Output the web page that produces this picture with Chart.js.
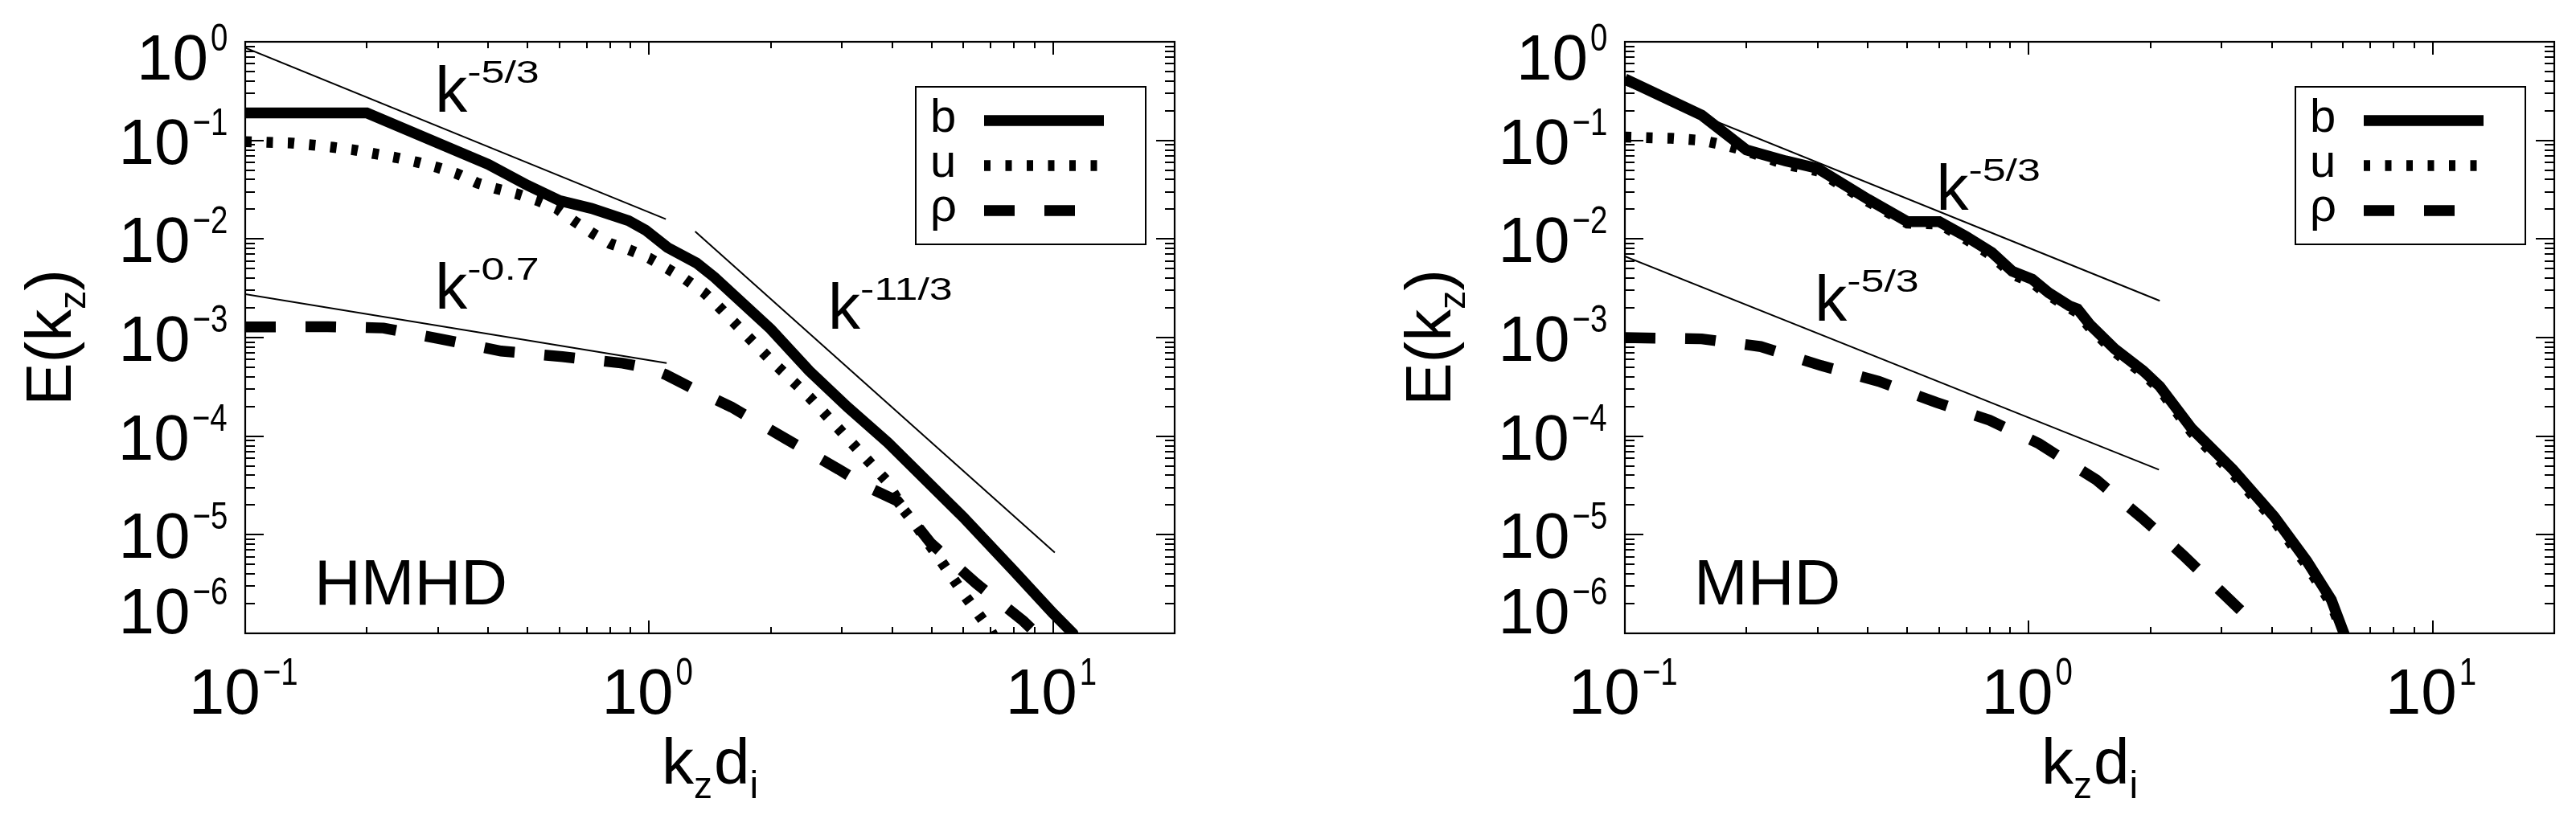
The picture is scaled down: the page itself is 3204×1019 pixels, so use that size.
<!DOCTYPE html>
<html>
<head>
<meta charset="utf-8">
<script src="https://cdn.jsdelivr.net/npm/chart.js@4/dist/chart.umd.min.js"></script>
<style>
html,body{margin:0;padding:0;background:#fff;}
#wrap{position:relative;width:3204px;height:1019px;background:#fff;overflow:hidden;}
canvas{position:absolute;top:0;}
</style>
</head>
<body>
<div id="wrap">
<canvas id="cL" width="1602" height="1019" style="left:0px"></canvas>
<canvas id="cR" width="1602" height="1019" style="left:1602px"></canvas>
</div>
<script>
// ================= DATA =================
// ---- HMHD panel ----
const hmhdK_b = [0.1, 0.2, 0.4, 0.5, 0.6, 0.72, 0.89, 0.98, 1.11, 1.31, 1.45, 2.0, 2.49, 3.1, 3.9, 6.0, 8.0, 10.0, 11.2, 11.6];
const hmhdE_b = [0.19, 0.19, 0.057, 0.035, 0.0245, 0.0204, 0.0153, 0.0123, 0.0082, 0.0057, 0.0041, 0.00122, 4.6e-4, 1.97e-4, 8.6e-5, 1.5e-5, 4.3e-6, 1.6e-6, 1.0e-6, 7e-7];
const hmhdK_u = [0.1, 0.13, 0.15, 0.165, 0.186, 0.21, 0.236, 0.267, 0.3, 0.334, 0.375, 0.415, 0.47, 0.53, 0.59, 0.65, 0.72, 0.8, 0.89, 1.0, 1.11, 1.23, 1.37, 1.48, 2.0, 2.49, 3.1, 3.85, 4.27, 4.61, 5.3, 6.08, 7.0, 7.4];
const hmhdE_u = [0.097, 0.094, 0.089, 0.085, 0.080, 0.073, 0.067, 0.06, 0.053, 0.046, 0.037, 0.0327, 0.0287, 0.0245, 0.0204, 0.0153, 0.0116, 0.009, 0.0078, 0.0064, 0.005, 0.0039, 0.00284, 0.0021, 5.9e-4, 2.5e-4, 9.5e-5, 3.6e-5, 1.78e-5, 1.2e-5, 5.3e-6, 2.34e-6, 1.07e-6, 7e-7];
const hmhdK_rho = [0.1, 0.16, 0.22, 0.3, 0.43, 0.61, 0.86, 1.0, 1.1, 1.29, 1.6, 2.17, 2.95, 3.5, 4.12, 4.97, 6.46, 8.45, 9.6];
const hmhdE_rho = [0.00128, 0.00129, 0.00125, 0.00098, 0.00073, 0.00064, 0.00055, 0.00049, 0.00042, 0.0003, 0.000197, 9.5e-5, 4.6e-5, 3.0e-5, 2.2e-5, 8.3e-6, 3.2e-6, 1.33e-6, 8e-7];
// reference power-law guide segments (end points)
const hmhdGuide1K = [0.1, 1.1];   const hmhdGuide1E = [0.87, 0.0159];     // k^-5/3
const hmhdGuide2K = [1.3, 10.1];  const hmhdGuide2E = [0.0119, 6.6e-6];   // k^-11/3
const hmhdGuide3K = [0.1, 1.105]; const hmhdGuide3E = [0.00275, 0.00055]; // k^-0.7

// ---- MHD panel ----
const mhdK_b = [0.1, 0.155, 0.2, 0.25, 0.3, 0.4, 0.5, 0.6, 0.7, 0.81, 0.91, 1.02, 1.12, 1.26, 1.32, 1.42, 1.63, 1.92, 2.11, 2.53, 3.2, 4.05, 4.88, 5.61, 6.03, 6.3];
const mhdE_b = [0.42, 0.18, 0.08, 0.062, 0.052, 0.0253, 0.015, 0.015, 0.0106, 0.0073, 0.0047, 0.0039, 0.00285, 0.0021, 0.00195, 0.00134, 7.7e-4, 4.6e-4, 3.2e-4, 1.2e-4, 4.6e-5, 1.53e-5, 5.4e-6, 2.19e-6, 1.0e-6, 6e-7];
const mhdK_u = [0.1, 0.13, 0.155, 0.18, 0.2, 0.25, 0.3, 0.4, 0.5, 0.6, 0.7, 0.81, 0.91, 1.02, 1.12, 1.26, 1.32, 1.42, 1.63, 1.92, 2.11, 2.53, 3.2, 4.05, 4.88, 5.61, 6.0, 6.2];
const mhdE_u = [0.108, 0.105, 0.1, 0.088, 0.078, 0.057, 0.049, 0.024, 0.0145, 0.0142, 0.0099, 0.0068, 0.0044, 0.0036, 0.0027, 0.002, 0.0018, 0.00125, 7.2e-4, 4.3e-4, 3.0e-4, 1.1e-4, 4.2e-5, 1.4e-5, 4.9e-6, 2.0e-6, 1.0e-6, 7e-7];
const mhdK_rho = [0.1, 0.155, 0.217, 0.306, 0.425, 0.59, 0.8, 1.06, 1.19, 1.47, 1.9, 2.09, 2.41, 2.77, 3.35];
const mhdE_rho = [0.001, 0.00097, 0.00081, 0.00052, 0.00036, 0.00022, 0.000145, 8.4e-5, 6.2e-5, 3.6e-5, 1.5e-5, 1.06e-5, 6.2e-6, 3.6e-6, 1.7e-6];
const mhdGuide1K = [0.1, 2.11]; const mhdGuide1E = [0.368, 0.00236];   // k^-5/3 (upper)
const mhdGuide2K = [0.1, 2.1];  const mhdGuide2E = [0.00668, 4.57e-5]; // k^-5/3 (lower)

// ---- tick labels / texts ----
const yTickExponents = ['0', '\u22121', '\u22122', '\u22123', '\u22124', '\u22125', '\u22126'];
const yTickValues = [1, 1e-1, 1e-2, 1e-3, 1e-4, 1e-5, 1e-6];
const xTickExponents = ['\u22121', '0', '1'];
const xTickValues = [0.1, 1, 10];
const seriesNames = ['b', 'u', '\u03c1'];
const panelNames = ['HMHD', 'MHD'];

// ================= STYLE / LAYOUT =================
const FONT = '"Liberation Sans", Arial, Helvetica, sans-serif';
const seriesStyles = [
  {width: 13.5, dash: []},
  {width: 13.5, dash: [8, 18.5]},
  {width: 13.5, dash: [38, 37]}
];

function pts(ks, es) { return ks.map((k, i) => ({x: k, y: es[i]})); }

function fnt(px) { return px + 'px ' + FONT; }

// "10^e" style label with superscript
function drawPow(ctx, base, exp, x, y, align, o) {
  ctx.textAlign = 'left'; ctx.textBaseline = 'alphabetic';
  ctx.font = fnt(o.mainPx); const mb = ctx.measureText(base);
  ctx.font = fnt(o.supPx); const ms = ctx.measureText(exp);
  const sx = o.supSX || 1, sy = o.supSY || 1;
  const inkL = -mb.actualBoundingBoxLeft;
  const supStart = mb.width + o.gap;
  const supInkR = supStart + sx * ms.actualBoundingBoxRight;
  const inkR = Math.max(mb.actualBoundingBoxRight, supInkR);
  let x0;
  if (align === 'right') x0 = x - inkR;
  else if (align === 'center') x0 = x - (inkL + inkR) / 2;
  else x0 = x - inkL;
  ctx.font = fnt(o.mainPx); ctx.fillText(base, x0, y);
  ctx.save();
  ctx.translate(x0 + supStart, y - o.supRise);
  ctx.scale(sx, sy);
  ctx.font = fnt(o.supPx); ctx.fillText(exp, 0, 0);
  ctx.restore();
}

function drawParts(ctx, parts, x, y, align) {
  ctx.textAlign = 'left'; ctx.textBaseline = 'alphabetic';
  let w = 0; const ws = [];
  parts.forEach(p => { ctx.font = fnt(p.px); const m = ctx.measureText(p.t); ws.push(m.width); w += m.width + (p.dx || 0); });
  let cx = align === 'center' ? x - w / 2 : x;
  parts.forEach((p, i) => { ctx.font = fnt(p.px); cx += (p.dx || 0); ctx.fillText(p.t, cx, y + (p.dy || 0)); cx += ws[i]; });
}

const tickLabelOpts = {mainPx: 80, supPx: 48, supSX: 0.8, supRise: 36, gap: 3};
const noteOpts = {mainPx: 80, supPx: 52, supSX: 1.0, supSY: 0.73, supRise: 36, gap: 0};

function makeDecor(cfg) {
  return {
    id: 'decor',
    afterDatasetsDraw(chart) {
      const ctx = chart.ctx, a = chart.chartArea;
      const xs = chart.scales.x, ys = chart.scales.y;
      ctx.save();
      ctx.fillStyle = '#000'; ctx.strokeStyle = '#000';
      // ---- frame ----
      ctx.lineWidth = 2.2;
      ctx.strokeRect(a.left, a.top, a.right - a.left, a.bottom - a.top);
      // ---- y ticks (inward, both sides) ----
      ctx.lineWidth = 2;
      ctx.beginPath();
      for (let e = -6; e <= 0; e++) {
        for (let m = 1; m <= 9; m++) {
          const v = m * Math.pow(10, e);
          if (v > 1.0000001) break;
          const py = Math.round(ys.getPixelForValue(v));
          const len = m === 1 ? 23 : 12;
          ctx.moveTo(a.left, py); ctx.lineTo(a.left + len, py);
          ctx.moveTo(a.right, py); ctx.lineTo(a.right - len, py);
        }
      }
      // ---- x ticks (inward, top and bottom) ----
      for (let e = -1; e <= 1; e++) {
        for (let m = 1; m <= 9; m++) {
          const v = m * Math.pow(10, e);
          if (v > 20.0001) break;
          const px = Math.round(xs.getPixelForValue(v));
          const len = m === 1 ? 16 : 8;
          ctx.moveTo(px, a.bottom); ctx.lineTo(px, a.bottom - len);
          ctx.moveTo(px, a.top); ctx.lineTo(px, a.top + len);
        }
      }
      ctx.stroke();
      // ---- y tick labels ----
      yTickValues.forEach((v, i) => {
        const py = ys.getPixelForValue(v);
        let base = py + 29;
        if (i === 0) base = py + 47;
        if (i === yTickValues.length - 1) base = py;
        drawPow(ctx, '10', yTickExponents[i], a.left - 23, base, 'right', tickLabelOpts);
      });
      // ---- x tick labels ----
      xTickValues.forEach((v, i) => {
        const px = xs.getPixelForValue(v);
        drawPow(ctx, '10', xTickExponents[i], px, a.bottom + 100, 'center', tickLabelOpts);
      });
      // ---- axis titles ----
      const cxm = (a.left + a.right) / 2, cym = (a.top + a.bottom) / 2;
      drawParts(ctx, [
        {t: 'k', px: 80}, {t: 'z', px: 46, dy: 18}, {t: 'd', px: 80, dx: 2}, {t: 'i', px: 48, dy: 18}
      ], cxm, a.bottom + 187, 'center');
      ctx.save();
      ctx.translate(a.left - 217, cym);
      ctx.rotate(-Math.PI / 2);
      drawParts(ctx, [
        {t: 'E', px: 80}, {t: '(', px: 80}, {t: 'k', px: 80}, {t: 'z', px: 46, dy: 18}, {t: ')', px: 80}
      ], 0, 0, 'center');
      ctx.restore();
      // ---- power-law annotations ----
      cfg.notes.forEach(n => {
        const px = xs.getPixelForValue(n.k), py = ys.getPixelForValue(n.e);
        drawPow(ctx, 'k', n.exp, px, py, 'left', noteOpts);
      });
      // ---- panel name ----
      ctx.font = fnt(80); ctx.textAlign = 'left'; ctx.textBaseline = 'alphabetic';
      const nm = ctx.measureText(cfg.name);
      ctx.fillText(cfg.name, a.left + 92 + nm.actualBoundingBoxLeft, a.top + 700);
      // ---- legend ----
      ctx.lineWidth = 2;
      ctx.strokeRect(a.left + 834, a.top + 56, 286, 196);
      const rowsText = [112, 168, 223], rowsLine = [98, 154, 210];
      seriesNames.forEach((s, i) => {
        ctx.font = fnt(58);
        const m = ctx.measureText(s);
        ctx.fillText(s, a.left + 855 + m.actualBoundingBoxLeft, a.top + rowsText[i]);
        ctx.save();
        ctx.lineWidth = seriesStyles[i].width;
        ctx.setLineDash(seriesStyles[i].dash);
        ctx.lineCap = 'butt';
        ctx.beginPath();
        ctx.moveTo(a.left + 919, a.top + rowsLine[i]);
        ctx.lineTo(a.left + 1068, a.top + rowsLine[i]);
        ctx.stroke();
        ctx.restore();
      });
      ctx.restore();
    }
  };
}

function series(data, i) {
  return {
    data: data, borderColor: '#000', backgroundColor: '#000',
    borderWidth: seriesStyles[i].width, borderDash: seriesStyles[i].dash,
    borderCapStyle: 'butt', borderJoinStyle: 'miter',
    pointRadius: 0, fill: false, tension: 0, clip: 0
  };
}
function guide(data) {
  return {data: data, borderColor: '#000', borderWidth: 2, pointRadius: 0, fill: false, tension: 0, clip: 0};
}

function makeChart(id, datasets, cfg, pad) {
  return new Chart(document.getElementById(id), {
    type: 'line',
    data: {datasets: datasets},
    options: {
      responsive: false, animation: false, devicePixelRatio: 1, events: [],
      layout: {padding: pad},
      plugins: {legend: {display: false}, tooltip: {enabled: false}},
      scales: {
        x: {type: 'logarithmic', min: 0.1, max: 20, display: false},
        y: {type: 'logarithmic', min: 1e-6, max: 1, display: false}
      }
    },
    plugins: [makeDecor(cfg)]
  });
}

makeChart('cL', [
  guide(pts(hmhdGuide1K, hmhdGuide1E)),
  guide(pts(hmhdGuide2K, hmhdGuide2E)),
  guide(pts(hmhdGuide3K, hmhdGuide3E)),
  series(pts(hmhdK_rho, hmhdE_rho), 2),
  series(pts(hmhdK_u, hmhdE_u), 1),
  series(pts(hmhdK_b, hmhdE_b), 0)
], {
  name: panelNames[0],
  notes: [
    {k: 0.302, e: 0.194, exp: '-5/3'},
    {k: 0.302, e: 1.96e-3, exp: '-0.7'},
    {k: 2.84, e: 1.23e-3, exp: '-11/3'}
  ]
}, {left: 305, right: 141, top: 52, bottom: 231});

makeChart('cR', [
  guide(pts(mhdGuide1K, mhdGuide1E)),
  guide(pts(mhdGuide2K, mhdGuide2E)),
  series(pts(mhdK_rho, mhdE_rho), 2),
  series(pts(mhdK_u, mhdE_u), 1),
  series(pts(mhdK_b, mhdE_b), 0)
], {
  name: panelNames[1],
  notes: [
    {k: 0.604, e: 0.0197, exp: '-5/3'},
    {k: 0.302, e: 1.48e-3, exp: '-5/3'}
  ]
}, {left: 419, right: 27, top: 52, bottom: 231});
</script>
</body>
</html>
